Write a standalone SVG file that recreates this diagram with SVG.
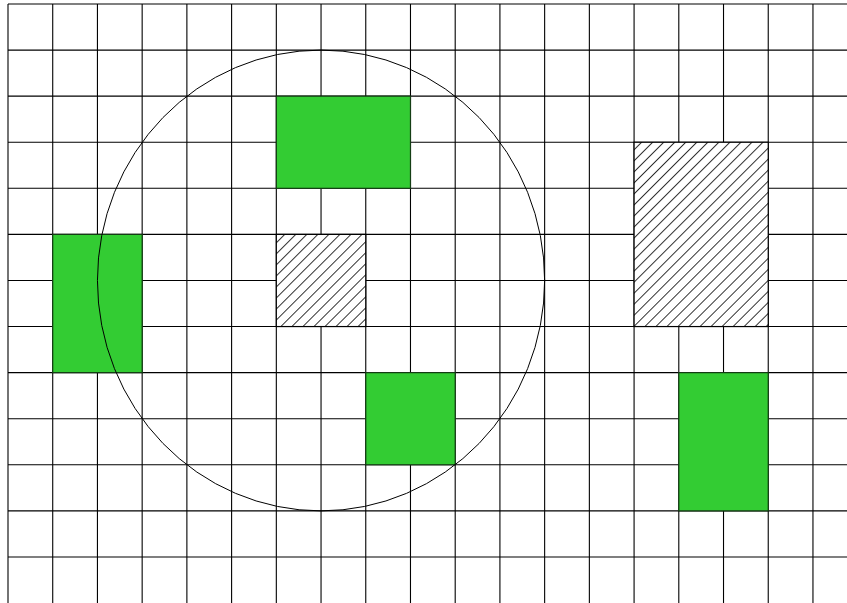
<svg xmlns="http://www.w3.org/2000/svg" width="847" height="603" viewBox="0 0 847 603">
<style>
.grid line{stroke:#000;stroke-width:1.1}
.green{fill:#33cc33;stroke:#143d14;stroke-width:1.2}
.hatch{fill:url(#hatch);stroke:#000;stroke-width:1.2}
.circ{fill:none;stroke:#000;stroke-width:1}
</style>
<defs>
<pattern id="hatch" patternUnits="userSpaceOnUse" width="7.8" height="10" patternTransform="rotate(45)">
<rect x="0" y="0" width="7.8" height="10" fill="#fff"/>
<line x1="0" y1="0" x2="0" y2="10" stroke="#000" stroke-width="1.6"/>
</pattern>
</defs>
<rect x="0" y="0" width="847" height="603" fill="#fff"/>
<g id="grid" class="grid">
<line x1="8" y1="4" x2="8" y2="603"/>
<line x1="52.72" y1="4" x2="52.72" y2="603"/>
<line x1="97.44" y1="4" x2="97.44" y2="603"/>
<line x1="142.16" y1="4" x2="142.16" y2="603"/>
<line x1="186.88" y1="4" x2="186.88" y2="603"/>
<line x1="231.6" y1="4" x2="231.6" y2="603"/>
<line x1="276.32" y1="4" x2="276.32" y2="603"/>
<line x1="321.04" y1="4" x2="321.04" y2="603"/>
<line x1="365.76" y1="4" x2="365.76" y2="603"/>
<line x1="410.48" y1="4" x2="410.48" y2="603"/>
<line x1="455.2" y1="4" x2="455.2" y2="603"/>
<line x1="499.92" y1="4" x2="499.92" y2="603"/>
<line x1="544.64" y1="4" x2="544.64" y2="603"/>
<line x1="589.36" y1="4" x2="589.36" y2="603"/>
<line x1="634.08" y1="4" x2="634.08" y2="603"/>
<line x1="678.8" y1="4" x2="678.8" y2="603"/>
<line x1="723.52" y1="4" x2="723.52" y2="603"/>
<line x1="768.24" y1="4" x2="768.24" y2="603"/>
<line x1="812.96" y1="4" x2="812.96" y2="603"/>
<line x1="8" y1="4" x2="847" y2="4"/>
<line x1="8" y1="50.08" x2="847" y2="50.08"/>
<line x1="8" y1="96.16" x2="847" y2="96.16"/>
<line x1="8" y1="142.24" x2="847" y2="142.24"/>
<line x1="8" y1="188.32" x2="847" y2="188.32"/>
<line x1="8" y1="234.4" x2="847" y2="234.4"/>
<line x1="8" y1="280.48" x2="847" y2="280.48"/>
<line x1="8" y1="326.56" x2="847" y2="326.56"/>
<line x1="8" y1="372.64" x2="847" y2="372.64"/>
<line x1="8" y1="418.72" x2="847" y2="418.72"/>
<line x1="8" y1="464.8" x2="847" y2="464.8"/>
<line x1="8" y1="510.88" x2="847" y2="510.88"/>
<line x1="8" y1="556.96" x2="847" y2="556.96"/>
</g>
<g id="green-top"><rect class="green" x="276.32" y="96.16" width="134.16" height="92.16"/></g>
<g id="green-left"><rect class="green" x="52.72" y="234.4" width="89.44" height="138.24"/></g>
<g id="green-mid"><rect class="green" x="365.76" y="372.64" width="89.44" height="92.16"/></g>
<g id="green-right"><rect class="green" x="678.8" y="372.64" width="89.44" height="138.24"/></g>
<g id="hatch-small"><rect class="hatch" x="276.32" y="234.4" width="89.44" height="92.16"/></g>
<g id="hatch-large"><rect class="hatch" x="634.08" y="142.24" width="134.16" height="184.32"/></g>
<g id="circle"><ellipse class="circ" cx="321.04" cy="280.48" rx="223.6" ry="230.4"/></g>
</svg>
